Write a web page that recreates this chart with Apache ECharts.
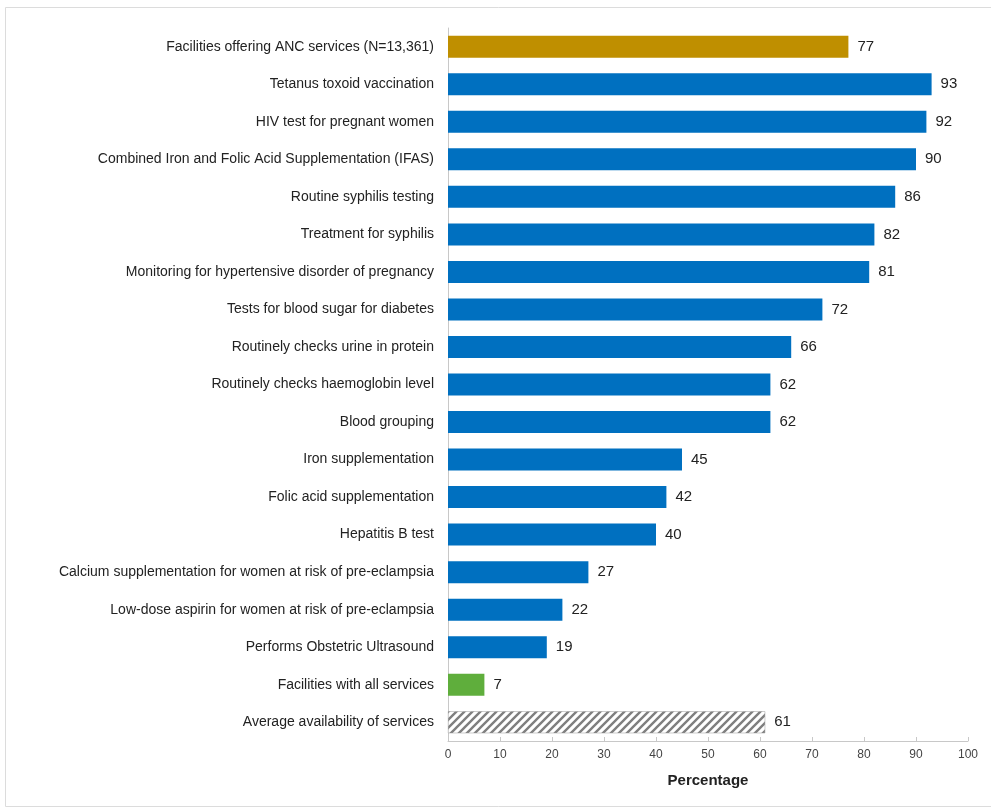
<!DOCTYPE html>
<html>
<head>
<meta charset="utf-8">
<script src="https://cdn.jsdelivr.net/npm/echarts@6/dist/echarts.min.js"></script>
<style>
  html, body { margin: 0; padding: 0; background: #ffffff; }
  #chart { width: 991px; height: 811px; }
</style>
</head>
<body>
<div id="chart"></div>
<script>
// ANC service availability among facilities offering ANC services
const categories = [
  'Facilities offering ANC services (N=13,361)',
  'Tetanus toxoid vaccination',
  'HIV test for pregnant women',
  'Combined Iron and Folic Acid Supplementation (IFAS)',
  'Routine syphilis testing',
  'Treatment for syphilis',
  'Monitoring for hypertensive disorder of pregnancy',
  'Tests for blood sugar for diabetes',
  'Routinely checks urine in protein',
  'Routinely checks haemoglobin level',
  'Blood grouping',
  'Iron supplementation',
  'Folic acid supplementation',
  'Hepatitis B test',
  'Calcium supplementation for women at risk of pre-eclampsia',
  'Low-dose aspirin for women at risk of pre-eclampsia',
  'Performs Obstetric Ultrasound',
  'Facilities with all services',
  'Average availability of services'
];
const values = [77, 93, 92, 90, 86, 82, 81, 72, 66, 62, 62, 45, 42, 40, 27, 22, 19, 7, 61];
// bar kind per row: total, service, all, average
const kinds = ['total', 'service', 'service', 'service', 'service', 'service', 'service', 'service',
  'service', 'service', 'service', 'service', 'service', 'service', 'service', 'service', 'service',
  'all', 'average'];
const xTicks = [0, 10, 20, 30, 40, 50, 60, 70, 80, 90, 100];

const FONT = '"Liberation Sans Narrow", "Arial Narrow", "Liberation Sans", Arial, sans-serif';

// diagonal hatch fill for the average bar
function hatchPattern() {
  const c = document.createElement('canvas');
  const s = 8;
  c.width = s; c.height = s;
  const g = c.getContext('2d');
  g.fillStyle = '#ffffff';
  g.fillRect(0, 0, s, s);
  g.strokeStyle = '#7f7f7f';
  g.lineWidth = 2.4;
  g.beginPath();
  g.moveTo(-2, s + 2); g.lineTo(s + 2, -2);
  g.moveTo(-2, 2); g.lineTo(2, -2);
  g.moveTo(s - 2, s + 2); g.lineTo(s + 2, s - 2);
  g.stroke();
  return c;
}

const kindColor = {
  total: '#bf8f00',
  service: '#0070c0',
  all: '#5fae3c',
  average: { image: hatchPattern(), repeat: 'repeat' }
};

const chart = echarts.init(document.getElementById('chart'), null, { renderer: 'canvas' });

const frameStyle = { stroke: '#dcdcdc', lineWidth: 1 };

chart.setOption({
  animation: false,
  backgroundColor: '#ffffff',
  graphic: [
    { type: 'line', shape: { x1: 5.5, y1: 7.5, x2: 991, y2: 7.5 }, style: frameStyle, silent: true },
    { type: 'line', shape: { x1: 5.5, y1: 7.5, x2: 5.5, y2: 806.5 }, style: frameStyle, silent: true },
    { type: 'line', shape: { x1: 5.5, y1: 806.5, x2: 991, y2: 806.5 }, style: frameStyle, silent: true }
  ],
  grid: { left: 448, right: 23, top: 28, bottom: 70, containLabel: false },
  xAxis: {
    type: 'value',
    min: 0, max: 100, interval: 10,
    name: 'Percentage',
    nameLocation: 'middle',
    nameGap: 32,
    nameTextStyle: { fontFamily: FONT, fontSize: 15, fontWeight: 'bold', color: '#222' },
    axisLine: { show: true, lineStyle: { color: '#c8c8c8', width: 1 } },
    axisTick: { show: true, inside: true, length: 4, lineStyle: { color: '#c8c8c8' } },
    axisLabel: {
      fontFamily: FONT, fontSize: 12, color: '#444', margin: 8,
      formatter: v => (xTicks.indexOf(v) >= 0 ? String(v) : '')
    },
    splitLine: { show: false }
  },
  yAxis: {
    type: 'category',
    data: categories,
    inverse: true,
    axisLine: { show: true, lineStyle: { color: '#c8c8c8', width: 1 } },
    axisTick: { show: false },
    axisLabel: { fontFamily: FONT, fontSize: 14, color: '#222', margin: 14 }
  },
  series: [{
    type: 'bar',
    barWidth: 22,
    data: values.map((v, i) => ({
      value: v,
      itemStyle: {
        color: kindColor[kinds[i]],
        borderColor: kinds[i] === 'average' ? '#9a9a9a' : null,
        borderWidth: kinds[i] === 'average' ? 0.5 : 0
      }
    })),
    label: {
      show: true,
      position: 'right',
      distance: 9,
      fontFamily: FONT,
      fontSize: 15,
      color: '#222'
    }
  }]
});
</script>
</body>
</html>
